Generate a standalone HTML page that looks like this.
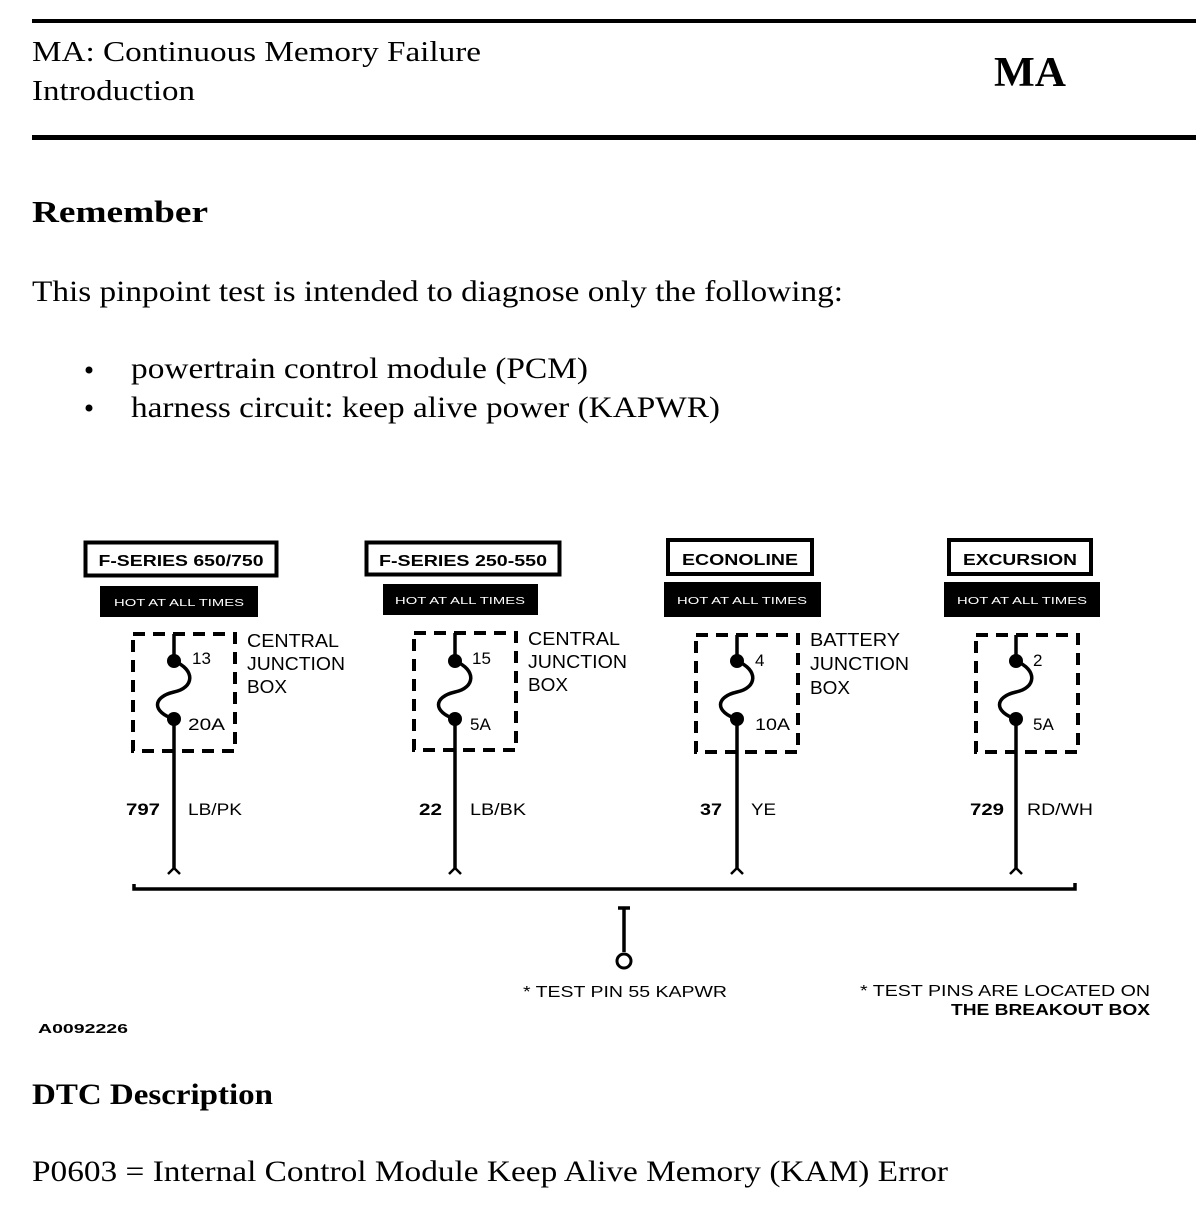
<!DOCTYPE html>
<html><head><meta charset="utf-8"><style>
html,body{margin:0;padding:0;background:#fff;}
svg{display:block;}
.s{font-family:"Liberation Serif",serif;fill:#000;}
.a{font-family:"Liberation Sans",sans-serif;fill:#000;}
</style></head><body>
<svg width="1200" height="1218" viewBox="0 0 1200 1218" xmlns="http://www.w3.org/2000/svg">
<rect x="32" y="19" width="1164" height="4" fill="#000"/>
<rect x="32" y="135" width="1164" height="5" fill="#000"/>
<text class="s" x="32" y="61" font-size="29" textLength="449" lengthAdjust="spacingAndGlyphs">MA: Continuous Memory Failure</text>
<text class="s" x="32" y="100" font-size="29" textLength="163" lengthAdjust="spacingAndGlyphs">Introduction</text>
<text class="s" x="994" y="86" font-size="42" font-weight="bold" textLength="72" lengthAdjust="spacingAndGlyphs">MA</text>
<text class="s" x="32" y="222" font-size="31" font-weight="bold" textLength="176" lengthAdjust="spacingAndGlyphs">Remember</text>
<text class="s" x="32" y="301" font-size="30" textLength="811" lengthAdjust="spacingAndGlyphs">This pinpoint test is intended to diagnose only the following:</text>
<circle cx="89" cy="370" r="3.5" fill="#000"/>
<circle cx="89" cy="408" r="3.5" fill="#000"/>
<text class="s" x="131" y="378" font-size="30" textLength="457" lengthAdjust="spacingAndGlyphs">powertrain control module (PCM)</text>
<text class="s" x="131" y="417" font-size="30" textLength="589" lengthAdjust="spacingAndGlyphs">harness circuit: keep alive power (KAPWR)</text>

<g>
<rect x="85.5" y="542.5" width="191" height="33" fill="none" stroke="#000" stroke-width="4"/>
<text class="a" x="181" y="566" font-size="16" font-weight="bold" text-anchor="middle" textLength="165" lengthAdjust="spacingAndGlyphs">F-SERIES 650/750</text>
<rect x="100" y="586" width="158" height="31" fill="#000"/>
<text x="179" y="606" font-size="10" text-anchor="middle" fill="#fff" font-family="Liberation Sans,sans-serif" textLength="130" lengthAdjust="spacingAndGlyphs">HOT AT ALL TIMES</text>
<rect x="133" y="634" width="102" height="117" fill="none" stroke="#000" stroke-width="4" stroke-dasharray="12,8"/>
<path d="M174,634 V661 C196,670 194,688 174,692 C152,697 152,712 174,719 V868" fill="none" stroke="#000" stroke-width="3.5"/>
<circle cx="174" cy="661" r="7"/><circle cx="174" cy="719" r="7"/>
<path d="M168,874 l6,-6 l6,6" fill="none" stroke="#000" stroke-width="2.5"/>
<text class="a" x="192" y="664" font-size="17">13</text>
<text class="a" x="188" y="730" font-size="17" textLength="37" lengthAdjust="spacingAndGlyphs">20A</text>
<text class="a" x="247" y="647" font-size="18" textLength="92" lengthAdjust="spacingAndGlyphs">CENTRAL</text>
<text class="a" x="247" y="670" font-size="18" textLength="98" lengthAdjust="spacingAndGlyphs">JUNCTION</text>
<text class="a" x="247" y="693" font-size="18" textLength="40" lengthAdjust="spacingAndGlyphs">BOX</text>
<text class="a" x="126" y="815" font-size="17" font-weight="bold" textLength="34" lengthAdjust="spacingAndGlyphs">797</text>
<text class="a" x="188" y="815" font-size="17" textLength="54" lengthAdjust="spacingAndGlyphs">LB/PK</text>
</g>
<g>
<rect x="366.5" y="542.5" width="193" height="32" fill="none" stroke="#000" stroke-width="4"/>
<text class="a" x="463" y="566" font-size="16" font-weight="bold" text-anchor="middle" textLength="168" lengthAdjust="spacingAndGlyphs">F-SERIES 250-550</text>
<rect x="383" y="584" width="155" height="31" fill="#000"/>
<text x="460" y="604" font-size="10" text-anchor="middle" fill="#fff" font-family="Liberation Sans,sans-serif" textLength="130" lengthAdjust="spacingAndGlyphs">HOT AT ALL TIMES</text>
<rect x="414" y="633" width="102" height="117" fill="none" stroke="#000" stroke-width="4" stroke-dasharray="12,8"/>
<path d="M455,633 V661 C477,670 475,688 455,692 C433,697 433,712 455,719 V868" fill="none" stroke="#000" stroke-width="3.5"/>
<circle cx="455" cy="661" r="7"/><circle cx="455" cy="719" r="7"/>
<path d="M449,874 l6,-6 l6,6" fill="none" stroke="#000" stroke-width="2.5"/>
<text class="a" x="472" y="664" font-size="17">15</text>
<text class="a" x="470" y="730" font-size="17">5A</text>
<text class="a" x="528" y="645" font-size="18" textLength="92" lengthAdjust="spacingAndGlyphs">CENTRAL</text>
<text class="a" x="528" y="668" font-size="18" textLength="99" lengthAdjust="spacingAndGlyphs">JUNCTION</text>
<text class="a" x="528" y="691" font-size="18" textLength="40" lengthAdjust="spacingAndGlyphs">BOX</text>
<text class="a" x="419" y="815" font-size="17" font-weight="bold" textLength="23" lengthAdjust="spacingAndGlyphs">22</text>
<text class="a" x="470" y="815" font-size="17" textLength="56" lengthAdjust="spacingAndGlyphs">LB/BK</text>
</g>
<g>
<rect x="668" y="540" width="144" height="34" fill="none" stroke="#000" stroke-width="4"/>
<text class="a" x="740" y="565" font-size="16" font-weight="bold" text-anchor="middle" textLength="116" lengthAdjust="spacingAndGlyphs">ECONOLINE</text>
<rect x="664" y="582" width="157" height="35" fill="#000"/>
<text x="742" y="604" font-size="10" text-anchor="middle" fill="#fff" font-family="Liberation Sans,sans-serif" textLength="130" lengthAdjust="spacingAndGlyphs">HOT AT ALL TIMES</text>
<rect x="696" y="635" width="102" height="117" fill="none" stroke="#000" stroke-width="4" stroke-dasharray="12,8"/>
<path d="M737,635 V661 C759,670 757,688 737,692 C715,697 715,712 737,719 V868" fill="none" stroke="#000" stroke-width="3.5"/>
<circle cx="737" cy="661" r="7"/><circle cx="737" cy="719" r="7"/>
<path d="M731,874 l6,-6 l6,6" fill="none" stroke="#000" stroke-width="2.5"/>
<text class="a" x="755" y="666" font-size="17">4</text>
<text class="a" x="755" y="730" font-size="17" textLength="35" lengthAdjust="spacingAndGlyphs">10A</text>
<text class="a" x="810" y="646" font-size="18" textLength="90" lengthAdjust="spacingAndGlyphs">BATTERY</text>
<text class="a" x="810" y="670" font-size="18" textLength="99" lengthAdjust="spacingAndGlyphs">JUNCTION</text>
<text class="a" x="810" y="694" font-size="18" textLength="40" lengthAdjust="spacingAndGlyphs">BOX</text>
<text class="a" x="700" y="815" font-size="17" font-weight="bold" textLength="22" lengthAdjust="spacingAndGlyphs">37</text>
<text class="a" x="751" y="815" font-size="17" textLength="25" lengthAdjust="spacingAndGlyphs">YE</text>
</g>
<g>
<rect x="949" y="540" width="142" height="34" fill="none" stroke="#000" stroke-width="4"/>
<text class="a" x="1020" y="565" font-size="16" font-weight="bold" text-anchor="middle" textLength="114" lengthAdjust="spacingAndGlyphs">EXCURSION</text>
<rect x="944" y="582" width="156" height="35" fill="#000"/>
<text x="1022" y="604" font-size="10" text-anchor="middle" fill="#fff" font-family="Liberation Sans,sans-serif" textLength="130" lengthAdjust="spacingAndGlyphs">HOT AT ALL TIMES</text>
<rect x="976" y="635" width="102" height="117" fill="none" stroke="#000" stroke-width="4" stroke-dasharray="12,8"/>
<path d="M1016,635 V661 C1038,670 1036,688 1016,692 C994,697 994,712 1016,719 V868" fill="none" stroke="#000" stroke-width="3.5"/>
<circle cx="1016" cy="661" r="7"/><circle cx="1016" cy="719" r="7"/>
<path d="M1010,874 l6,-6 l6,6" fill="none" stroke="#000" stroke-width="2.5"/>
<text class="a" x="1033" y="666" font-size="17">2</text>
<text class="a" x="1033" y="730" font-size="17">5A</text>
<text class="a" x="970" y="815" font-size="17" font-weight="bold" textLength="34" lengthAdjust="spacingAndGlyphs">729</text>
<text class="a" x="1027" y="815" font-size="17" textLength="66" lengthAdjust="spacingAndGlyphs">RD/WH</text>
</g>
<path d="M134,884 V889 H1075 V883" fill="none" stroke="#000" stroke-width="3.5"/>
<path d="M618,908 h12 M624,908 V952" stroke="#000" stroke-width="3.5" fill="none"/>
<circle cx="624" cy="961" r="7" fill="#fff" stroke="#000" stroke-width="3"/>
<text class="a" x="523" y="997" font-size="16" textLength="204" lengthAdjust="spacingAndGlyphs">* TEST PIN 55 KAPWR</text>
<text class="a" x="860" y="996" font-size="16" textLength="290" lengthAdjust="spacingAndGlyphs">* TEST PINS ARE LOCATED ON</text>
<text class="a" x="951" y="1015" font-size="16" font-weight="bold" textLength="199" lengthAdjust="spacingAndGlyphs">THE BREAKOUT BOX</text>
<text class="a" x="38" y="1033" font-size="13" font-weight="bold" textLength="90" lengthAdjust="spacingAndGlyphs">A0092226</text>
<text class="s" x="32" y="1104" font-size="30" font-weight="bold" textLength="241" lengthAdjust="spacingAndGlyphs">DTC Description</text>
<text class="s" x="32" y="1181" font-size="30" textLength="916" lengthAdjust="spacingAndGlyphs">P0603 = Internal Control Module Keep Alive Memory (KAM) Error</text>
</svg>
</body></html>
